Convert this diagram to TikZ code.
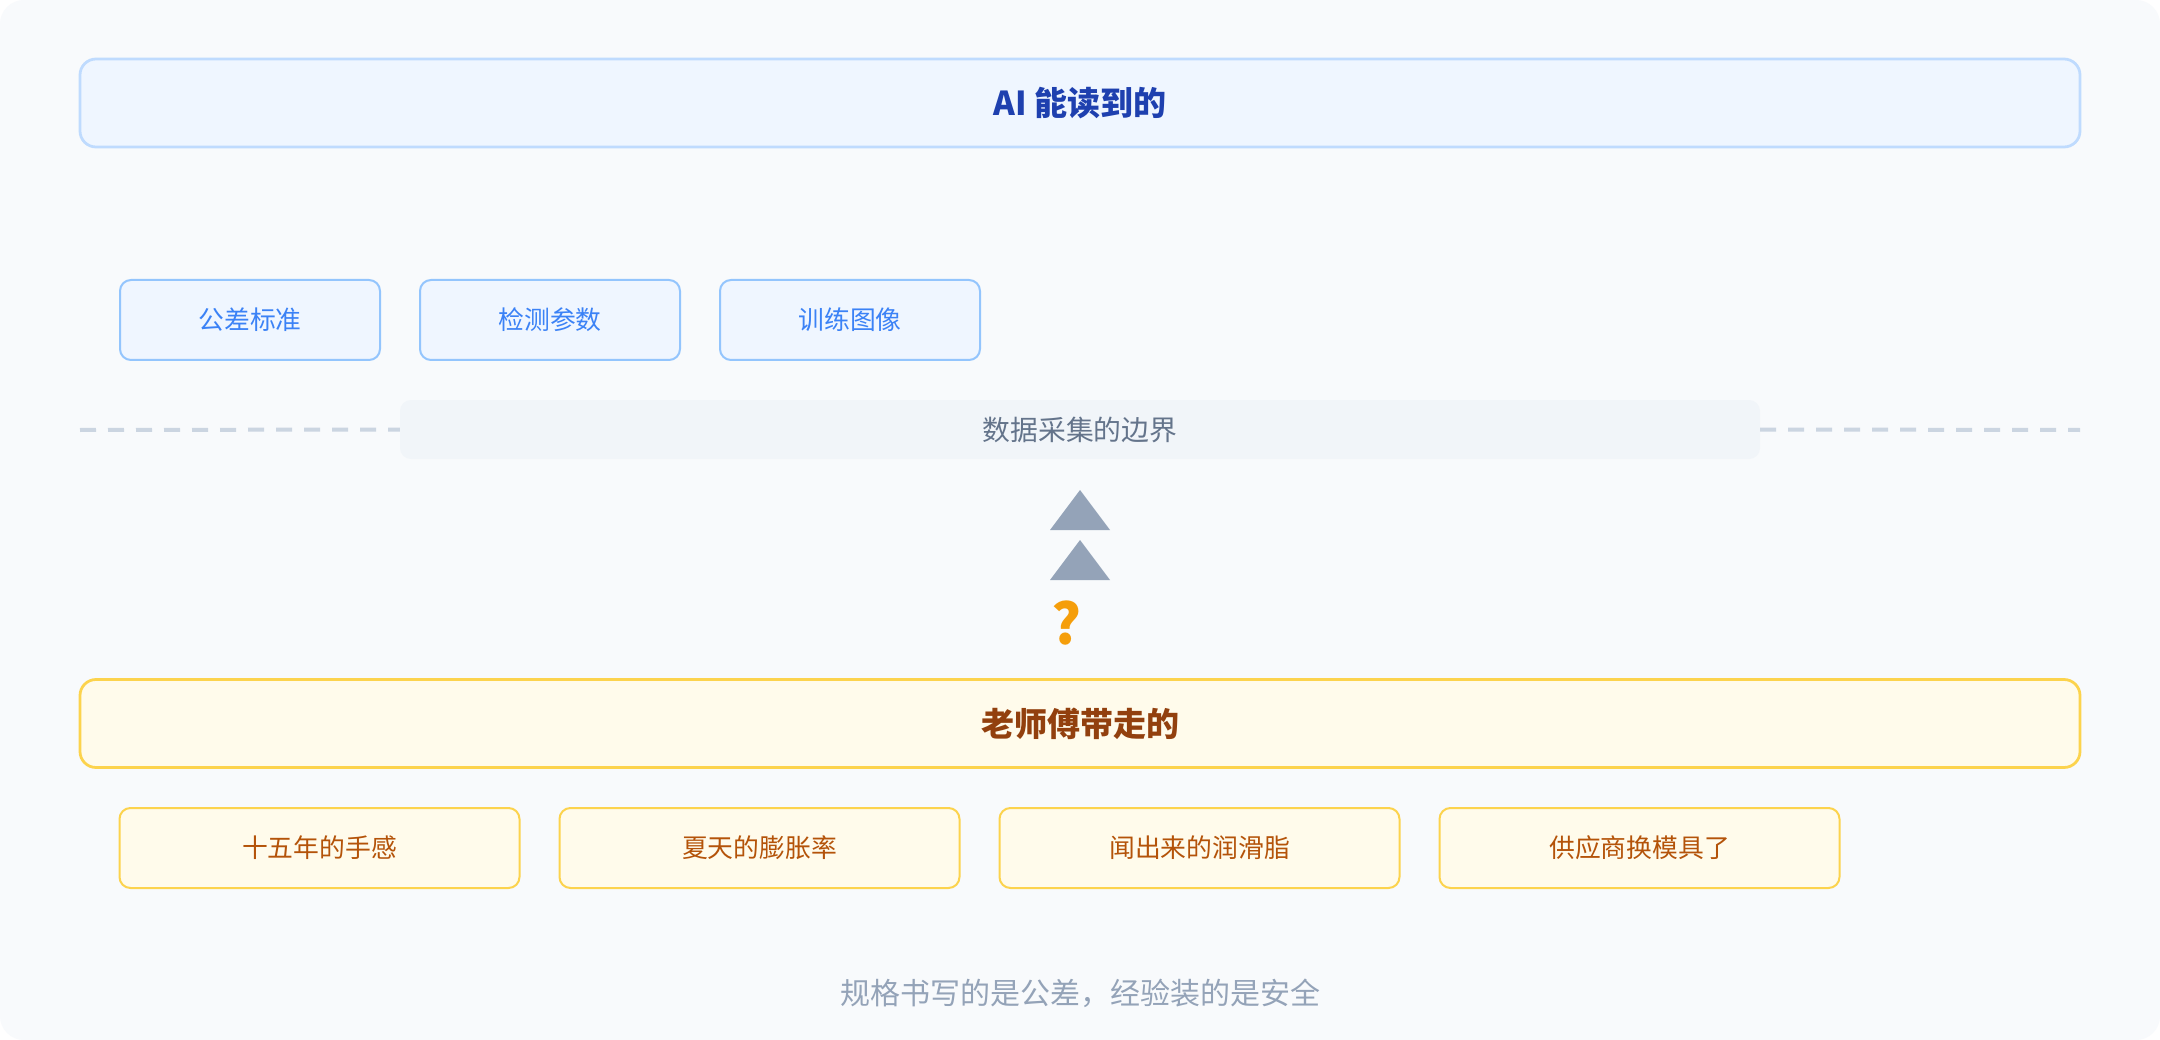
\documentclass[tikz,border=0pt]{standalone}
\usepackage{fontspec}
\setmainfont{Noto Sans CJK SC}
\definecolor{bgc}{HTML}{F8FAFC}
\definecolor{blueF}{HTML}{EFF6FF}
\definecolor{blueS}{HTML}{BFDBFE}
\definecolor{blueS2}{HTML}{93C5FD}
\definecolor{blueT}{HTML}{1E40AF}
\definecolor{blueT2}{HTML}{3B82F6}
\definecolor{yelF}{HTML}{FFFBEB}
\definecolor{yelS}{HTML}{FCD34D}
\definecolor{yelT}{HTML}{92400E}
\definecolor{yelT2}{HTML}{B45309}
\definecolor{bndF}{HTML}{F1F5F9}
\definecolor{bndT}{HTML}{64748B}
\definecolor{dashC}{HTML}{CBD5E1}
\definecolor{triC}{HTML}{94A3B8}
\definecolor{qC}{HTML}{F59E0B}
\begin{document}
\begin{tikzpicture}[x=1pt,y=-1pt,
  bigbox/.style={rectangle, rounded corners=16pt, line width=2.75pt, minimum width=2000pt, minimum height=88pt, inner sep=0pt, font=\fontsize{33}{40}\selectfont\bfseries},
  smallbox/.style={rectangle, rounded corners=11pt, line width=2pt, minimum height=80pt, inner sep=0pt, font=\fontsize{25.8}{31}\selectfont},
  bluebig/.style={bigbox, fill=blueF, draw=blueS, text=blueT},
  yelbig/.style={bigbox, fill=yelF, draw=yelS, text=yelT},
  bluesmall/.style={smallbox, fill=blueF, draw=blueS2, text=blueT2, minimum width=260pt},
  yelsmall/.style={smallbox, fill=yelF, draw=yelS, text=yelT2, minimum width=400pt},
  bndbox/.style={rectangle, rounded corners=11pt, fill=bndF, minimum width=1360pt, minimum height=59pt, inner sep=0pt, text=bndT, font=\fontsize{27.8}{33}\selectfont},
  dashline/.style={draw=dashC, line width=4pt, dash pattern=on 16pt off 12pt},
  tri/.style={fill=triC}
]
\fill[white] (0,0) rectangle (2160,1040);
\useasboundingbox (0,0) rectangle (2160,1040);
\fill[bgc, rounded corners=24pt] (0,0) rectangle (2160,1040);

\node[bluebig] (ai) at (1080,103) {AI 能读到的};

\node[bluesmall] (b1) at (250,320) {公差标准};
\node[bluesmall] (b2) at (550,320) {检测参数};
\node[bluesmall] (b3) at (850,320) {训练图像};

\coordinate (dl) at (80,430);
\coordinate (dr) at (2080,430);
\node[bndbox] (bd) at (1080,429.5) {数据采集的边界};
\draw[dashline] (dl) -- (bd.west);
\draw[dashline] (bd.east) -- (dr);

\fill[tri] (1050,530) -- (1080,490) -- (1110,530) -- cycle;
\fill[tri] (1050,580) -- (1080,540) -- (1110,580) -- cycle;
\node[text=qC, font=\fontsize{56}{60}\selectfont\bfseries, inner sep=0pt] (q) at (1066,623) {?};

\node[yelbig] (lsf) at (1080,723.5) {老师傅带走的};

\node[yelsmall] (y1) at (319.5,848) {十五年的手感};
\node[yelsmall] (y2) at (759.5,848) {夏天的膨胀率};
\node[yelsmall] (y3) at (1199.5,848) {闻出来的润滑脂};
\node[yelsmall] (y4) at (1639.5,848) {供应商换模具了};

\node[text=triC, font=\fontsize{30}{36}\selectfont, inner sep=0pt] (cap) at (1080,993) {规格书写的是公差，经验装的是安全};
\end{tikzpicture}
\end{document}
